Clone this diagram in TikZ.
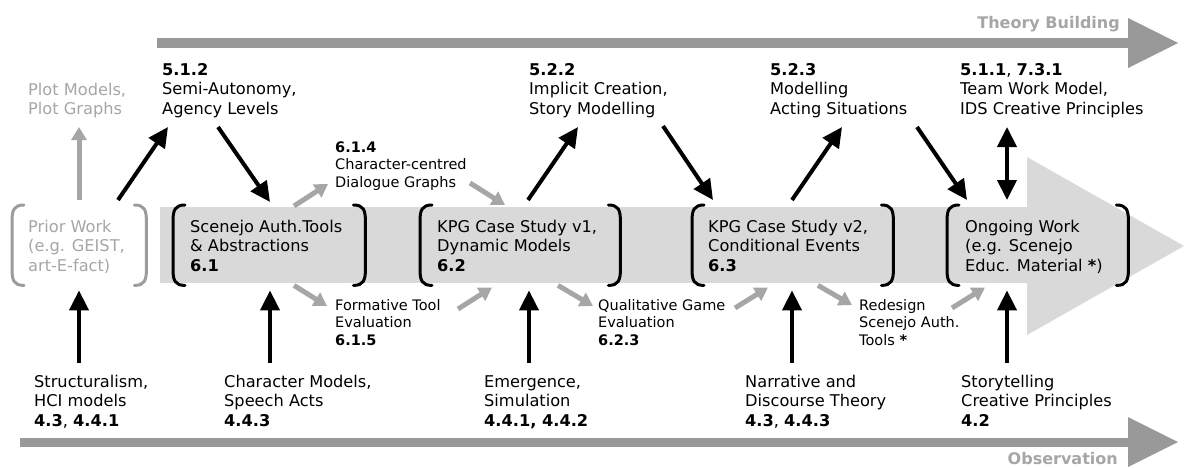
\documentclass[tikz,border=0pt]{standalone}
\usepackage{fontspec}
\setmainfont{DejaVu Sans}
\usetikzlibrary{arrows.meta}

\definecolor{bandgray}{HTML}{D9D9D9}
\definecolor{bargray}{HTML}{999999}
\definecolor{softgray}{HTML}{A6A6A6}
\definecolor{framegray}{HTML}{9C9C9C}

% left-aligned stack of lines whose baseline is the first line
\newcommand\stk[1]{\begin{tabular}[t]{@{}l@{}}#1\end{tabular}}

% curly bracket pair drawn on both sides of a frame node
\newcommand\brk[2]{%
  \draw[#2, line width=3pt, line cap=round]
    ([shift={(12,0)}]#1.north west) .. controls ([shift={(2,0)}]#1.north west) and ([shift={(0,5)}]#1.north west) .. ([shift={(0,16)}]#1.north west)
    -- ([shift={(0,-16)}]#1.south west) .. controls ([shift={(0,-5)}]#1.south west) and ([shift={(2,0)}]#1.south west) .. ([shift={(12,0)}]#1.south west);
  \draw[#2, line width=3pt, line cap=round]
    ([shift={(-12,0)}]#1.north east) .. controls ([shift={(-2,0)}]#1.north east) and ([shift={(0,5)}]#1.north east) .. ([shift={(0,16)}]#1.north east)
    -- ([shift={(0,-16)}]#1.south east) .. controls ([shift={(0,-5)}]#1.south east) and ([shift={(-2,0)}]#1.south east) .. ([shift={(-12,0)}]#1.south east);
}

\begin{document}
\begin{tikzpicture}[x=1pt,y=-1pt,
  lbl/.style={anchor=base west, inner sep=0pt, font=\fontsize{16.2}{19.5}\selectfont},
  sml/.style={lbl, font=\fontsize{14.5}{17.5}\selectfont},
  frame/.style={anchor=north west, inner sep=0pt, minimum height=80pt},
  blk/.style={line width=4pt, -{Triangle[length=20pt,width=19pt]}},
  gry/.style={line width=5pt, draw=softgray, -{Triangle[length=13pt,width=15pt]}},
  title/.style={anchor=base east, inner sep=0pt, text=softgray, font=\fontsize{16}{19.5}\selectfont\bfseries},
]
\useasboundingbox (0,0) rectangle (1184,467);

% main process band with its large arrow head
\fill[bandgray] (160,207) rectangle (1028,283);
\fill[bandgray] (1027,157) -- (1184,246) -- (1027,335) -- cycle;

% theory building arrow (top)
\fill[bargray] (157,38) rectangle (1129,48);
\fill[bargray] (1128,18) -- (1178,43) -- (1128,68) -- cycle;
\node[title] (theory) at (1120,28) {Theory Building};

% observation arrow (bottom)
\fill[bargray] (20,438) rectangle (1129,447);
\fill[bargray] (1128,417) -- (1178,442) -- (1128,467) -- cycle;
\node[title] (obs) at (1118,464) {Observation};

% frames of the stages
\node[frame, minimum width=134pt] (prior) at (12,205) {};
\node[frame, minimum width=192pt] (sc) at (173,205) {};
\node[frame, minimum width=200pt] (k1) at (420,205) {};
\node[frame, minimum width=201pt] (k2) at (692,205) {};
\node[frame, minimum width=181pt] (og) at (947,205) {};
\brk{prior}{framegray}
\brk{sc}{black}
\brk{k1}{black}
\brk{k2}{black}
\brk{og}{black}

% stage texts
\node[lbl, text=softgray] (priort) at (28,232) {\stk{Prior Work\\(e.g. GEIST,\\art-E-fact)}};
\node[lbl] (sct) at (190,232) {\stk{Scenejo Auth.Tools\\\& Abstractions\\\textbf{6.1}}};
\node[lbl] (k1t) at (437,232) {\stk{KPG Case Study v1,\\Dynamic Models\\\textbf{6.2}}};
\node[lbl] (k2t) at (708,232) {\stk{KPG Case Study v2,\\Conditional Events\\\textbf{6.3}}};
\node[lbl] (ogt) at (965,232) {\stk{Ongoing Work\\(e.g. Scenejo\\Educ. Material \textbf{*})}};

% theory labels (top)
\node[lbl, text=softgray] (plot) at (28,95) {\stk{Plot Models,\\Plot Graphs}};
\node[lbl] (semi) at (162,75) {\stk{\textbf{5.1.2}\\Semi-Autonomy,\\Agency Levels}};
\node[lbl] (impl) at (529,75) {\stk{\textbf{5.2.2}\\Implicit Creation,\\Story Modelling}};
\node[lbl] (act) at (770,75) {\stk{\textbf{5.2.3}\\Modelling\\Acting Situations}};
\node[lbl] (team) at (960,75) {\stk{\textbf{5.1.1}, \textbf{7.3.1}\\Team Work Model,\\IDS Creative Principles}};

% intermediate results
\node[sml] (chr) at (335,152) {\stk{\textbf{6.1.4}\\Character-centred\\Dialogue Graphs}};
\node[sml] (form) at (335,310) {\stk{Formative Tool\\Evaluation\\\textbf{6.1.5}}};
\node[sml] (qual) at (598,310) {\stk{Qualitative Game\\Evaluation\\\textbf{6.2.3}}};
\node[sml] (redes) at (859,310) {\stk{Redesign\\Scenejo Auth.\\Tools \textbf{*}}};

% observation labels (bottom)
\node[lbl] (struct) at (34,387) {\stk{Structuralism,\\HCI models\\\textbf{4.3}, \textbf{4.4.1}}};
\node[lbl] (charm) at (224,387) {\stk{Character Models,\\Speech Acts\\\textbf{4.4.3}}};
\node[lbl] (emer) at (484,387) {\stk{Emergence,\\Simulation\\\textbf{4.4.1, 4.4.2}}};
\node[lbl] (narr) at (745,387) {\stk{Narrative and\\Discourse Theory\\\textbf{4.3}, \textbf{4.4.3}}};
\node[lbl] (story) at (961,387) {\stk{Storytelling\\Creative Principles\\\textbf{4.2}}};

% theory building links
\draw[blk] ([shift={(106,-5)}]prior.north west) -- ([shift={(6,52)}]semi.base west);
\draw[blk] ([shift={(56,52)}]semi.base west) -- ([shift={(97,-3)}]sc.north west);
\draw[blk] ([shift={(108,-5)}]k1.north west) -- ([shift={(49,52)}]impl.base west);
\draw[blk] ([shift={(134,51)}]impl.base west) -- ([shift={(21,-5)}]k2.north west);
\draw[blk] ([shift={(100,-5)}]k2.north west) -- ([shift={(72,52)}]act.base west);
\draw[blk] ([shift={(147,52)}]act.base west) -- ([shift={(20,-5)}]og.north west);
\draw[blk, {Triangle[length=20pt,width=19pt]}-{Triangle[length=20pt,width=19pt]}]
  ([shift={(47,52)}]team.base west) -- ([shift={(60,-5)}]og.north west);

% observation links
\draw[blk] ([shift={(45,-24)}]struct.base west) -- ([shift={(67,5)}]prior.south west);
\draw[blk] ([shift={(46,-24)}]charm.base west) -- ([shift={(97,5)}]sc.south west);
\draw[blk] ([shift={(45,-24)}]emer.base west) -- ([shift={(109,5)}]k1.south west);
\draw[blk] ([shift={(47,-24)}]narr.base west) -- ([shift={(100,5)}]k2.south west);
\draw[blk] ([shift={(46,-24)}]story.base west) -- ([shift={(60,5)}]og.south west);

% secondary links
\draw[gry] ([shift={(67,-5)}]prior.north west) -- ([shift={(51,32)}]plot.base west);
\draw[gry] ([shift={(121,1)}]sc.north west) -- ([shift={(-7,32)}]chr.base west);
\draw[gry] ([shift={(121,0)}]sc.south west) -- ([shift={(-8,-4)}]form.base west);
\draw[gry] ([shift={(123,-1)}]form.base west) -- ([shift={(72,2)}]k1.south west);
\draw[gry] ([shift={(135,31)}]chr.base west) -- ([shift={(85,0)}]k1.north west);
\draw[gry] ([shift={(138,0)}]k1.south west) -- ([shift={(-5,-4)}]qual.base west);
\draw[gry] ([shift={(137,-2)}]qual.base west) -- ([shift={(76,2)}]k2.south west);
\draw[gry] ([shift={(126,0)}]k2.south west) -- ([shift={(-7,-5)}]redes.base west);
\draw[gry] ([shift={(93,-2)}]redes.base west) -- ([shift={(38,2)}]og.south west);
\end{tikzpicture}
\end{document}
